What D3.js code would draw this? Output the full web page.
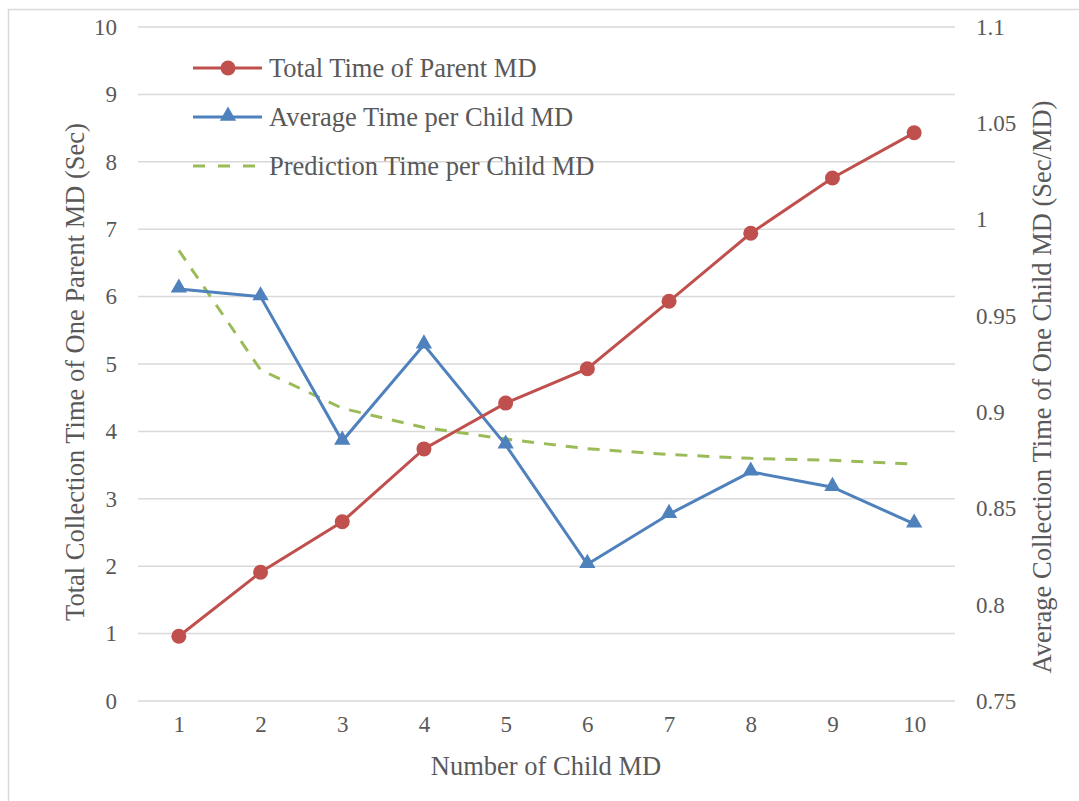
<!DOCTYPE html>
<html>
<head>
<meta charset="utf-8">
<script src="https://cdn.jsdelivr.net/npm/d3@7"></script>
<style>
  body { margin: 0; background: #fff; }
</style>
</head>
<body>
<svg width="1079" height="801"></svg>
<script>
var childCounts = [1, 2, 3, 4, 5, 6, 7, 8, 9, 10];
var totalParent = [0.96, 1.91, 2.66, 3.74, 4.42, 4.93, 5.93, 6.94, 7.76, 8.43];
var avgPerChild = [0.964, 0.960, 0.885, 0.935, 0.883, 0.821, 0.847, 0.869, 0.861, 0.842];
var predPerChild = [0.984, 0.922, 0.902, 0.892, 0.886, 0.881, 0.878, 0.876, 0.875, 0.873];
var leftTicks = [0, 1, 2, 3, 4, 5, 6, 7, 8, 9, 10];
var rightTicks = [0.75, 0.8, 0.85, 0.9, 0.95, 1, 1.05, 1.1];
var seriesNames = ["Total Time of Parent MD", "Average Time per Child MD", "Prediction Time per Child MD"];

var red = "#c0504d", blue = "#4f81bd", green = "#9bbb59";
var font = "'Liberation Serif', 'DejaVu Serif', serif";
var textColor = "#595959";
var svg = d3.select("svg");

// outer frame (cropped at right/bottom in the original)
svg.append("rect")
    .attr("x", 8.5).attr("y", 9.5)
    .attr("width", 1100).attr("height", 820)
    .attr("fill", "none").attr("stroke", "#d9d9d9").attr("stroke-width", 1.5);

var plotL = 138, plotR = 955, plotT = 27, plotB = 701;

var xScale = d3.scalePoint().domain(childCounts).range([plotL, plotR]).padding(0.5);
var yLeft = d3.scaleLinear().domain([0, 10]).range([plotB, plotT]);
var yRight = d3.scaleLinear().domain([0.75, 1.1]).range([plotB, plotT]);

// gridlines
svg.append("g").selectAll("line")
    .data(leftTicks)
    .enter().append("line")
    .attr("x1", plotL).attr("x2", plotR)
    .attr("y1", function (d) { return yLeft(d); })
    .attr("y2", function (d) { return yLeft(d); })
    .attr("stroke", "#d9d9d9").attr("stroke-width", 1.5);

function styleAxis(g) {
    g.attr("font-family", font).attr("font-size", 23);
    g.select(".domain").remove();
    g.selectAll("text").attr("fill", textColor);
}

// left axis
svg.append("g")
    .attr("transform", "translate(" + (plotL - 21) + ",0)")
    .call(d3.axisLeft(yLeft).tickValues(leftTicks).tickSize(0).tickPadding(0))
    .call(styleAxis);

// right axis
svg.append("g")
    .attr("transform", "translate(" + (plotR + 21) + ",0)")
    .call(d3.axisRight(yRight).tickValues(rightTicks).tickSize(0).tickPadding(0)
        .tickFormat(function (d) { return String(+d.toFixed(2)); }))
    .call(styleAxis);

// bottom axis
svg.append("g")
    .attr("transform", "translate(0," + (plotB + 15) + ")")
    .call(d3.axisBottom(xScale).tickSize(0).tickPadding(0))
    .call(styleAxis)
    .selectAll("text").attr("dy", "0.7em");

// axis titles
function title(sel) {
    sel.attr("text-anchor", "middle").attr("font-size", 26.5)
        .attr("font-family", font).attr("fill", textColor);
}
svg.append("text")
    .attr("transform", "translate(84,372) rotate(-90)")
    .call(title)
    .text("Total Collection Time of One Parent MD (Sec)");
svg.append("text")
    .attr("transform", "translate(1051,387) rotate(-90)")
    .call(title)
    .text("Average Collection Time of One Child MD (Sec/MD)");
svg.append("text")
    .attr("x", 546).attr("y", 775)
    .call(title)
    .text("Number of Child MD");

// lines
var redLine = d3.line()
    .x(function (d, i) { return xScale(childCounts[i]); })
    .y(function (d) { return yLeft(d); });
var rightLine = d3.line()
    .x(function (d, i) { return xScale(childCounts[i]); })
    .y(function (d) { return yRight(d); });

svg.append("path").datum(predPerChild)
    .attr("d", rightLine)
    .attr("fill", "none").attr("stroke", green)
    .attr("stroke-width", 3).attr("stroke-dasharray", "12,10");

svg.append("path").datum(avgPerChild)
    .attr("d", rightLine)
    .attr("fill", "none").attr("stroke", blue).attr("stroke-width", 3);

svg.append("path").datum(totalParent)
    .attr("d", redLine)
    .attr("fill", "none").attr("stroke", red).attr("stroke-width", 3);

var tri = d3.symbol().type(d3.symbolTriangle).size(115);

svg.append("g").selectAll("path")
    .data(avgPerChild)
    .enter().append("path")
    .attr("d", tri)
    .attr("transform", function (d, i) {
        return "translate(" + xScale(childCounts[i]) + "," + (yRight(d) - 1) + ")";
    })
    .attr("fill", blue);

svg.append("g").selectAll("circle")
    .data(totalParent)
    .enter().append("circle")
    .attr("cx", function (d, i) { return xScale(childCounts[i]); })
    .attr("cy", function (d) { return yLeft(d); })
    .attr("r", 7.5)
    .attr("fill", red);

// legend
var legend = svg.append("g").attr("transform", "translate(193,68)");
var legendColors = [red, blue, green];
seriesNames.forEach(function (name, i) {
    var row = legend.append("g").attr("transform", "translate(0," + (i * 49) + ")");
    row.append("line")
        .attr("x1", 0).attr("x2", 69).attr("y1", 0).attr("y2", 0)
        .attr("stroke", legendColors[i]).attr("stroke-width", 3)
        .attr("stroke-dasharray", i === 2 ? "12,13" : null);
    if (i === 0) {
        row.append("circle").attr("cx", 35).attr("cy", 0).attr("r", 7.5).attr("fill", red);
    } else if (i === 1) {
        row.append("path").attr("d", tri).attr("transform", "translate(35,-1)").attr("fill", blue);
    }
    row.append("text")
        .attr("x", 76).attr("y", 0).attr("dy", "0.33em")
        .attr("font-size", 26.5).attr("font-family", font).attr("fill", textColor)
        .text(name);
});
</script>
</body>
</html>
